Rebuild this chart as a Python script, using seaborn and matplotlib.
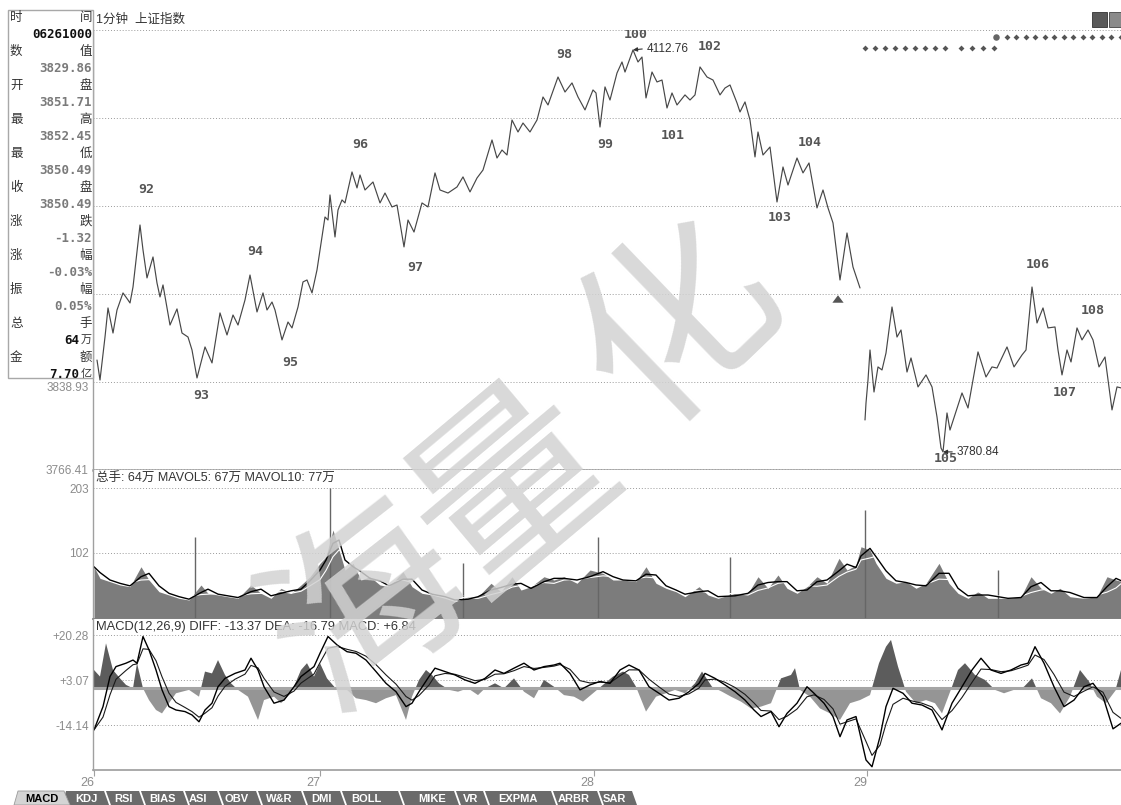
import numpy as np
import pandas as pd
import matplotlib
matplotlib.use("Agg")
import matplotlib.pyplot as plt
import seaborn as sns
from matplotlib.patches import Rectangle, Polygon
from matplotlib.lines import Line2D

# ---- data (x = minute bar index from the 26th, 10:00) ----
price_t = [3, 6, 11, 14, 19, 23, 29, 34, 36, 39,
           46, 49, 53, 59, 63, 66, 69, 76, 83, 88,
           94, 98, 103, 111, 118, 126, 133, 139, 144, 151,
           156, 163, 169, 173, 178, 181, 188, 194, 198, 204,
           209, 213, 218, 223, 231, 234, 236, 241, 244, 248,
           251, 258, 263, 266, 271, 279, 286, 291, 298, 303,
           310, 314, 320, 328, 334, 341, 346, 354, 363, 369,
           376, 383, 389, 398, 403, 408, 413, 418, 424, 429,
           436, 443, 449, 454, 464, 471, 478, 484, 491, 499,
           502, 506, 511, 516, 523, 528, 531, 539, 544, 548,
           552, 558, 563, 568, 573, 578, 583, 591, 596, 601,
           606, 613, 619, 626, 631, 636, 643, 646, 651, 656,
           661, 664, 669, 676, 683, 689, 694, 703, 709, 715,
           723, 729, 734, 739, 746, 753, 759, 766, 771, 772,
           774, 776, 780, 784, 788, 792, 798, 803, 807, 813,
           817, 824, 832, 838, 843, 847, 849, 853, 856, 868,
           874, 884, 892, 898, 903, 913, 920, 928, 932, 938,
           943, 949, 954, 961, 964, 968, 973, 977, 983, 988,
           994, 999, 1005, 1011, 1018, 1023, 1027]
price_v = [3856.7, 3840.2, 3875.7, 3899.7, 3879.0, 3898.0, 3912.1, 3906.3, 3903.8, 3917.0,
           3968.2, 3947.6, 3924.5, 3941.8, 3920.3, 3908.8, 3918.7, 3885.6, 3898.9, 3879.0,
           3875.7, 3865.0, 3841.9, 3867.5, 3854.3, 3895.6, 3877.4, 3893.9, 3885.6, 3906.3,
           3926.9, 3896.4, 3912.1, 3898.0, 3904.6, 3898.0, 3873.3, 3888.1, 3883.2, 3900.5,
           3921.2, 3922.8, 3912.1, 3931.1, 3974.8, 3972.3, 3993.0, 3958.3, 3980.6, 3988.9,
           3986.4, 4012.0, 3998.8, 4009.5, 3997.1, 4003.7, 3986.4, 3994.6, 3983.1, 3984.7,
           3950.1, 3972.3, 3962.4, 3986.4, 3983.1, 4011.2, 3997.1, 3994.6, 3999.6, 4007.9,
           3995.5, 4007.0, 4013.6, 4038.4, 4023.5, 4030.1, 4026.0, 4054.9, 4045.0, 4052.4,
           4045.0, 4054.9, 4073.9, 4067.3, 4090.4, 4078.0, 4085.5, 4073.9, 4063.2, 4079.7,
           4077.2, 4049.1, 4082.2, 4071.4, 4093.7, 4102.8, 4094.5, 4112.76, 4102.8, 4106.9,
           4073.1, 4094.5, 4086.3, 4087.9, 4064.8, 4077.2, 4067.3, 4075.6, 4071.4, 4075.6,
           4098.7, 4090.4, 4087.9, 4075.6, 4081.3, 4083.8, 4069.0, 4061.5, 4069.8, 4054.9,
           4024.4, 4045.0, 4026.0, 4032.6, 3987.2, 4016.1, 4001.2, 4023.5, 4011.2, 4019.4,
           3982.3, 3997.1, 3982.3, 3969.9, 3922.8, 3961.6, 3933.5, 3916.2, 3807.2, 3821.2,
           3840.2, 3865.0, 3830.3, 3851.0, 3848.5, 3862.5, 3900.5, 3875.7, 3881.5, 3846.8,
           3858.4, 3834.5, 3844.4, 3834.5, 3809.7, 3784.1, 3780.84, 3813.0, 3798.9, 3829.5,
           3817.1, 3863.4, 3842.7, 3851.0, 3850.1, 3867.5, 3851.0, 3860.9, 3865.0, 3917.0,
           3887.3, 3899.7, 3883.2, 3884.0, 3865.0, 3844.4, 3865.0, 3855.1, 3883.2, 3873.3,
           3881.5, 3873.3, 3851.0, 3859.2, 3815.5, 3834.5, 3833.7]
day29_start = 771

wave_names = ["92", "93", "94", "95", "96", "97", "98", "99", "100",
              "101", "102", "103", "104", "105", "106", "107", "108"]
wave_t = [52, 107, 161, 196, 266, 321, 470, 511, 542, 579, 616, 686, 716, 852, 944, 971, 999]
wave_v = [3997.1, 3827.8, 3945.9, 3854.3, 4034.3, 3933.5, 4108.6, 4034.3, 4125.1,
          4042.5, 4115.2, 3974.0, 4035.9, 3775.8, 3935.2, 3829.5, 3897.2]

sig_low_t = [771, 781, 791, 801, 811, 821, 831, 841, 851, 867, 878, 889, 900]
sig_low_level = 4114.1
sig_high_t = [913, 922, 932, 941, 951, 960, 970, 979, 989, 998, 1008, 1017, 1027]
sig_high_level = 4123.7
sig_start_t = 902
buy_arrow_t = 744
buy_arrow_v = 3908.0

vol_t = [0, 6, 16, 26, 36, 47, 55, 65, 75, 85,
         95, 107, 114, 124, 134, 144, 157, 167, 177, 187,
         197, 207, 216, 226, 232, 239, 245, 251, 259, 267,
         276, 286, 295, 309, 318, 328, 338, 351, 361, 374,
         384, 397, 407, 418, 427, 437, 450, 460, 470, 483,
         496, 509, 519, 529, 542, 552, 562, 572, 582, 591,
         605, 614, 624, 641, 654, 664, 674, 684, 693, 703,
         713, 723, 733, 745, 753, 762, 767, 776, 782, 792,
         802, 812, 822, 832, 845, 855, 864, 874, 884, 894,
         914, 927, 937, 947, 957, 966, 976, 990, 1003, 1013,
         1022, 1027]
vol_v = [80.6, 62.6, 57.4, 52.2, 49.6, 80.6, 60.0, 41.8, 36.7, 31.5,
         28.9, 52.2, 39.3, 36.7, 34.0, 31.5, 52.2, 39.3, 31.5, 47.1,
         39.3, 52.2, 65.1, 85.9, 96.2, 137.7, 106.6, 75.5, 85.9, 60.0,
         65.1, 52.2, 49.6, 72.9, 49.6, 39.3, 36.7, 31.5, 26.3, 34.0,
         34.0, 54.9, 41.8, 65.1, 44.4, 49.6, 65.1, 60.0, 65.1, 54.9,
         75.5, 70.4, 60.0, 60.0, 57.4, 80.6, 54.9, 47.1, 41.8, 34.0,
         49.6, 36.7, 31.5, 39.3, 39.3, 65.1, 47.1, 67.8, 47.1, 39.3,
         49.6, 65.1, 54.9, 93.7, 75.5, 83.3, 111.7, 106.6, 85.9, 62.6,
         54.9, 57.4, 47.1, 54.9, 85.9, 54.9, 39.3, 31.5, 41.8, 31.5,
         31.5, 34.0, 65.1, 47.1, 39.3, 47.1, 34.0, 31.5, 34.0, 65.1,
         60.0, 58.0]
spike_t = [101, 236, 369, 504, 636, 771, 904]
spike_v = [127.3, 202.5, 85.9, 127.3, 96.2, 168.8, 75.5]

diff_t = [0, 9, 16, 22, 32, 39, 43, 49, 55, 62,
          68, 75, 82, 91, 98, 105, 111, 118, 124, 131,
          141, 151, 157, 164, 170, 180, 190, 200, 207, 220,
          226, 234, 243, 253, 262, 272, 282, 292, 302, 312,
          318, 325, 335, 341, 351, 361, 371, 381, 391, 401,
          410, 420, 430, 440, 450, 460, 466, 476, 486, 496,
          506, 516, 526, 535, 545, 555, 565, 575, 585, 595,
          605, 611, 621, 631, 641, 651, 660, 667, 677, 685,
          693, 703, 713, 720, 730, 739, 746, 753, 762, 772,
          778, 786, 792, 799, 809, 818, 828, 838, 848, 858,
          868, 878, 887, 897, 907, 917, 927, 934, 941, 950,
          960, 970, 980, 990, 999, 1009, 1019, 1027]
diff_v = [-15.9, -7.0, 4.5, 8.3, 9.6, 10.8, 9.6, 19.8, 14.7, 7.0,
          -0.6, -7.0, -8.3, -8.9, -10.2, -12.8, -8.3, -5.7, 0.6, 3.8,
          5.7, 7.0, 11.5, 7.0, 0.6, -5.7, -4.5, 0.6, 4.5, 8.3,
          13.4, 19.8, 16.6, 14.0, 13.4, 10.8, 6.4, 1.9, -1.3, -7.0,
          -5.7, -1.3, 4.5, 7.7, 6.4, 5.1, 3.2, 1.9, 3.8, 7.0,
          5.7, 7.7, 9.6, 7.0, 8.3, 8.9, 9.6, 5.7, -0.6, 1.3,
          2.6, 1.9, 7.0, 8.9, 7.0, 0.6, -1.9, -4.5, -3.8, -1.3,
          1.9, 5.7, 3.8, 1.3, -1.3, -4.5, -8.3, -10.8, -8.9, -14.7,
          -9.6, -5.7, 0.6, -1.9, -5.7, -10.8, -18.5, -12.1, -10.8, -27.4,
          -30.0, -18.5, -7.0, 0.0, -1.9, -5.7, -6.4, -8.3, -15.9, -5.7,
          0.6, 7.0, 11.5, 7.0, 5.7, 7.0, 8.9, 9.6, 15.9, 9.6,
          0.6, -7.0, -4.5, 0.6, 1.9, -3.2, -15.5, -13.37]

hist_t = [0, 6, 12, 19, 26, 32, 39, 43, 49, 55,
          62, 68, 75, 82, 88, 95, 105, 111, 118, 124,
          131, 137, 144, 154, 164, 170, 180, 187, 197, 207,
          213, 220, 226, 233, 243, 253, 262, 272, 282, 292,
          302, 312, 318, 325, 332, 338, 345, 355, 364, 374,
          384, 391, 401, 410, 420, 430, 440, 450, 460, 470,
          480, 489, 499, 509, 519, 529, 535, 542, 552, 562,
          572, 581, 591, 601, 608, 618, 628, 637, 647, 657,
          667, 677, 687, 697, 701, 706, 716, 726, 736, 746,
          756, 766, 776, 785, 792, 797, 804, 812, 822, 832,
          841, 848, 858, 864, 871, 881, 891, 901, 910, 920,
          930, 938, 947, 957, 966, 976, 986, 995, 1003, 1012,
          1022, 1027]
hist_v = [7.0, 4.5, 17.2, 7.0, 3.8, 1.3, 0.0, 9.6, 0.0, -4.5,
          -8.3, -9.6, -5.7, -1.9, -1.3, -0.6, -3.2, 6.4, 5.7, 10.8,
          5.1, 1.9, -0.6, -3.2, -12.1, -4.5, -3.2, -5.7, -1.9, 7.0,
          9.6, 4.5, 9.6, 3.8, -0.6, -0.6, -3.8, -4.5, -5.7, -3.8,
          -2.6, -12.1, -3.2, 3.2, 7.0, 5.1, 1.9, -0.6, -1.3, 0.0,
          -2.6, 0.0, 1.9, 0.0, 3.8, -1.3, -3.8, 3.2, 0.6, -2.6,
          -3.2, -5.1, -1.9, 1.3, 4.5, 6.4, 5.1, 0.6, -8.9, -3.2,
          -1.9, -0.6, -1.9, 1.9, 6.4, 0.6, -1.3, -3.2, -5.1, -7.7,
          -7.0, -5.7, 3.8, 5.1, 7.7, -0.6, -3.2, -7.7, -9.6, -12.1,
          -5.7, -4.5, -2.6, 9.6, 15.9, 18.5, 8.3, -1.3, -5.7, -4.5,
          -5.7, -9.6, 0.6, 7.0, 9.6, 5.1, 3.2, -0.6, -1.9, -0.6,
          0.6, 3.8, -3.8, -5.7, -9.6, -3.2, 7.0, 2.6, -3.2, -5.7,
          -0.6, 6.84]

day_ticks = [0, 226, 500, 773]
day_labels = ["26", "27", "28", "29"]
price_ticks = [3766.41, 3838.93, 3911.45, 3983.97, 4056.49, 4129.01]
price_labels = ["3766.41", "3838.93", "", "", "", ""]  # the rest sit under the info box
vol_ticks = [102, 203]
macd_ticks = [-14.14, 3.07, 20.28]
macd_labels = ["-14.14", "+3.07", "+20.28"]

info_left = ["时", "数", "开", "最", "最", "收", "涨", "涨", "振", "总", "金"]
info_right = ["间", "值", "盘", "高", "低", "盘", "跌", "幅", "幅", "手", "额"]
info_value = ["06261000", "3829.86", "3851.71", "3852.45", "3850.49", "3850.49",
              "-1.32", "-0.03%", "0.05%", "64", "7.70"]
info_unit = ["", "", "", "", "", "", "", "", "", "万", "亿"]
info_dark = ["06261000", "64", "7.70"]

tab_names = ["MACD", "KDJ", "RSI", "BIAS", "ASI", "OBV", "W&R", "DMI",
             "BOLL", "MIKE", "VR", "EXPMA", "ARBR", "SAR"]

# ---- styling ----
sns.set_theme(style="white")
plt.rcParams["font.family"] = ["Liberation Sans", "Noto Sans CJK SC", "DejaVu Sans"]
plt.rcParams["axes.unicode_minus"] = False

W, H = 1121, 805
fig = plt.figure(figsize=(W / 100, H / 100), dpi=100, facecolor="white")


def fxy(x, y):
    return x / W, 1 - y / H


def box(x0, y0, x1, y1):
    return [x0 / W, 1 - y1 / H, (x1 - x0) / W, (y1 - y0) / H]


ax_p = fig.add_axes(box(93, 30, 1121, 470))
ax_v = fig.add_axes(box(93, 470, 1121, 618.6))
ax_m = fig.add_axes(box(93, 618.6, 1121, 770))

# price
pdf = pd.DataFrame({"t": price_t, "v": price_v})
pdf["seg"] = (pdf["t"] >= day29_start).astype(int)
sns.lineplot(data=pdf, x="t", y="v", units="seg", estimator=None, sort=False,
             color="#474747", linewidth=0.85, ax=ax_p, legend=False)
ax_p.set_ylim(3765.9, 4129.2)
ax_p.set_yticks(price_ticks)
ax_p.set_yticklabels(price_labels)

for name, t, v in zip(wave_names, wave_t, wave_v):
    ax_p.text(t, v, name, ha="center", va="center", fontsize=9.5, fontweight="bold",
              family="DejaVu Sans Mono", color="#555555", clip_on=True)

i_hi = int(np.argmax(price_v))
i_lo = int(np.argmin(price_v))
for i in (i_hi, i_lo):
    ax_p.annotate(f"{price_v[i]:.2f}", xy=(price_t[i], price_v[i]), xytext=(10, 1 if i == i_hi else 0),
                  textcoords="offset points", va="center", ha="left", fontsize=8.5, color="#333333",
                  arrowprops=dict(arrowstyle="-|>", color="#333333", lw=0.8, shrinkA=1, shrinkB=0,
                                  mutation_scale=6, relpos=(0, 0.5)))

ax_p.scatter(sig_low_t, [sig_low_level] * len(sig_low_t), marker="D", s=9, color="#555555",
             linewidths=0, zorder=3)
ax_p.scatter(sig_high_t, [sig_high_level] * len(sig_high_t), marker="D", s=9, color="#555555",
             linewidths=0, zorder=3)
ax_p.scatter([sig_start_t], [sig_high_level], marker="o", s=22, color="#666666", linewidths=0, zorder=3)
ax_p.annotate("", xy=(buy_arrow_t, buy_arrow_v + 4.5), xytext=(buy_arrow_t, buy_arrow_v - 4.5),
              arrowprops=dict(arrowstyle="simple,head_length=0.6,head_width=0.9,tail_width=0.4",
                              color="#555555", lw=0, mutation_scale=9))

# volume
ax_v.fill_between(vol_t, 0, vol_v, color="#7c7c7c", linewidth=0)
ax_v.vlines(spike_t, 0, spike_v, color="#666666", linewidth=1.0)
vs = pd.Series(vol_v, dtype=float)
sns.lineplot(x=vol_t, y=vs.rolling(4, min_periods=1).mean().values, color="white",
             linewidth=0.8, ax=ax_v, estimator=None)
sns.lineplot(x=vol_t, y=vs.rolling(2, min_periods=1).mean().values, color="black",
             linewidth=1.0, ax=ax_v, estimator=None)
ax_v.set_ylim(0, 231)
ax_v.set_yticks(vol_ticks)
ax_v.set_yticklabels([str(v) for v in vol_ticks])

# macd
hv = np.array(hist_v)
ax_m.fill_between(hist_t, 0, hv, where=hv >= 0, interpolate=True, color="#5c5c5c", linewidth=0)
ax_m.fill_between(hist_t, 0, hv, where=hv <= 0, interpolate=True, color="#959595", linewidth=0)
ax_m.axhline(0, color="#a5a5a5", linewidth=2.2, zorder=1)
dea = pd.Series(diff_v).ewm(alpha=0.55, adjust=False).mean().values
sns.lineplot(x=diff_t, y=dea, color="#1a1a1a", linewidth=0.8, ax=ax_m, estimator=None)
sns.lineplot(x=diff_t, y=diff_v, color="black", linewidth=1.0, ax=ax_m, estimator=None)
ax_m.set_ylim(-31.24, 26.65)
ax_m.set_yticks(macd_ticks)
ax_m.set_yticklabels(macd_labels)

grid_kw = dict(color="#9a9a9a", linestyle=(0, (1, 2)), linewidth=0.7)
for ax in (ax_p, ax_v, ax_m):
    ax.set_xlim(-1, 1027)
    ax.set_xlabel("")
    ax.set_ylabel("")
    for s in ("top", "right"):
        ax.spines[s].set_visible(False)
    ax.spines["left"].set_color("#a0a0a0")
    ax.spines["bottom"].set_color("#a0a0a0")
    ax.spines["left"].set_linewidth(1.0)
    ax.tick_params(axis="y", length=0, pad=3, labelsize=8.5, labelcolor="#8c8c8c")
    ax.yaxis.grid(True, **grid_kw)
    ax.xaxis.grid(False)
ax_p.yaxis.get_major_ticks()[1].label1.set_va("top")
ax_p.spines["bottom"].set_linewidth(1.8)
ax_v.spines["bottom"].set_color("#808080")
ax_p.set_xticks([])
ax_v.set_xticks([])
ax_m.set_xticks(day_ticks)
ax_m.set_xticklabels(day_labels)
ax_m.tick_params(axis="x", length=4, direction="out", color="#a0a0a0", width=0.8,
                 labelsize=9, labelcolor="#8c8c8c", pad=1, bottom=True)
for lbl in ax_m.get_xticklabels():
    lbl.set_ha("right")

# panel captions
fig.text(*fxy(96, 20), "1分钟  上证指数", fontsize=9, color="#333333", va="center")
fig.text(*fxy(96, 478), "总手: 64万 MAVOL5: 67万 MAVOL10: 77万", fontsize=9, color="#333333", va="center")
fig.text(*fxy(96, 627), "MACD(12,26,9) DIFF: -13.37 DEA: -16.79 MACD: +6.84", fontsize=9.3,
         color="#333333", va="center")

# info box on the left
fig.add_artist(Rectangle(fxy(8, 378), 85 / W, 368 / H, transform=fig.transFigure,
                         facecolor="white", edgecolor="#a8a8a8", linewidth=1.0, zorder=5))
for k in range(len(info_left)):
    vy = 34 + 34 * k
    fig.text(*fxy(10, vy - 17), info_left[k], fontsize=9, color="#333333",
             family="Noto Sans CJK SC", va="center", ha="left", zorder=6)
    fig.text(*fxy(92, vy - 17), info_right[k], fontsize=9, color="#333333",
             family="Noto Sans CJK SC", va="center", ha="right", zorder=6)
    col = "#111111" if info_value[k] in info_dark else "#7a7a7a"
    if info_unit[k]:
        fig.text(*fxy(79, vy), info_value[k], fontsize=9, fontweight="bold",
                 family="DejaVu Sans Mono", color=col, va="center", ha="right", zorder=6)
        fig.text(*fxy(92, vy), info_unit[k], fontsize=8, color="#333333",
                 family="Noto Sans CJK SC", va="center", ha="right", zorder=6)
    else:
        fig.text(*fxy(92, vy), info_value[k], fontsize=9, fontweight="bold",
                 family="DejaVu Sans Mono", color=col, va="center", ha="right", zorder=6)

# small icon top right
fig.add_artist(Rectangle(fxy(1092, 27), 15 / W, 15 / H, transform=fig.transFigure,
                         facecolor="#5a5a5a", edgecolor="#333333", linewidth=0.6, zorder=5))
fig.add_artist(Rectangle(fxy(1109, 27), 12 / W, 15 / H, transform=fig.transFigure,
                         facecolor="#8a8a8a", edgecolor="#444444", linewidth=0.6, zorder=5))

# indicator tabs at the bottom
tab_centers = [42, 86, 123, 163, 198, 237, 279, 321, 366, 432, 471, 518, 574, 614]
tab_edges = [65, 105, 140, 184, 218, 257, 302, 341, 399, 455, 484, 552, 598, 632]
fig.add_artist(Polygon([fxy(62, 805), fxy(66, 791), fxy(632, 791), fxy(637, 805)], closed=True,
                       transform=fig.transFigure, facecolor="#6b6b6b", edgecolor="none", zorder=5))
fig.add_artist(Polygon([fxy(14, 805), fxy(18, 791), fxy(64, 791), fxy(70, 805)], closed=True,
                       transform=fig.transFigure, facecolor="#d4d4d4", edgecolor="#9a9a9a",
                       linewidth=0.6, zorder=6))
for x in tab_edges[1:-1]:
    fig.add_artist(Line2D([x / W, (x + 5) / W], [1 - 791 / H, 1 - 805 / H], transform=fig.transFigure,
                          color="white", linewidth=1.3, zorder=6))
for name, cx in zip(tab_names, tab_centers):
    fig.text(*fxy(cx, 798.5), name, fontsize=8, fontweight="bold", ha="center", va="center",
             color="black" if name == "MACD" else "white", zorder=7)

# watermark
wm_chars = ["海", "量", "化"]
wm_xy = [(370, 610), (515, 490), (680, 325)]
wm_rot = [38, 40, 44]
for ch, (x, y), r in zip(wm_chars, wm_xy, wm_rot):
    fig.text(*fxy(x, y), ch, fontsize=140, color="#d2d2d2", alpha=0.85, rotation=r,
             family="Noto Sans CJK SC", ha="center", va="center", zorder=20)

fig.savefig("out.png", dpi=100, facecolor="white")
